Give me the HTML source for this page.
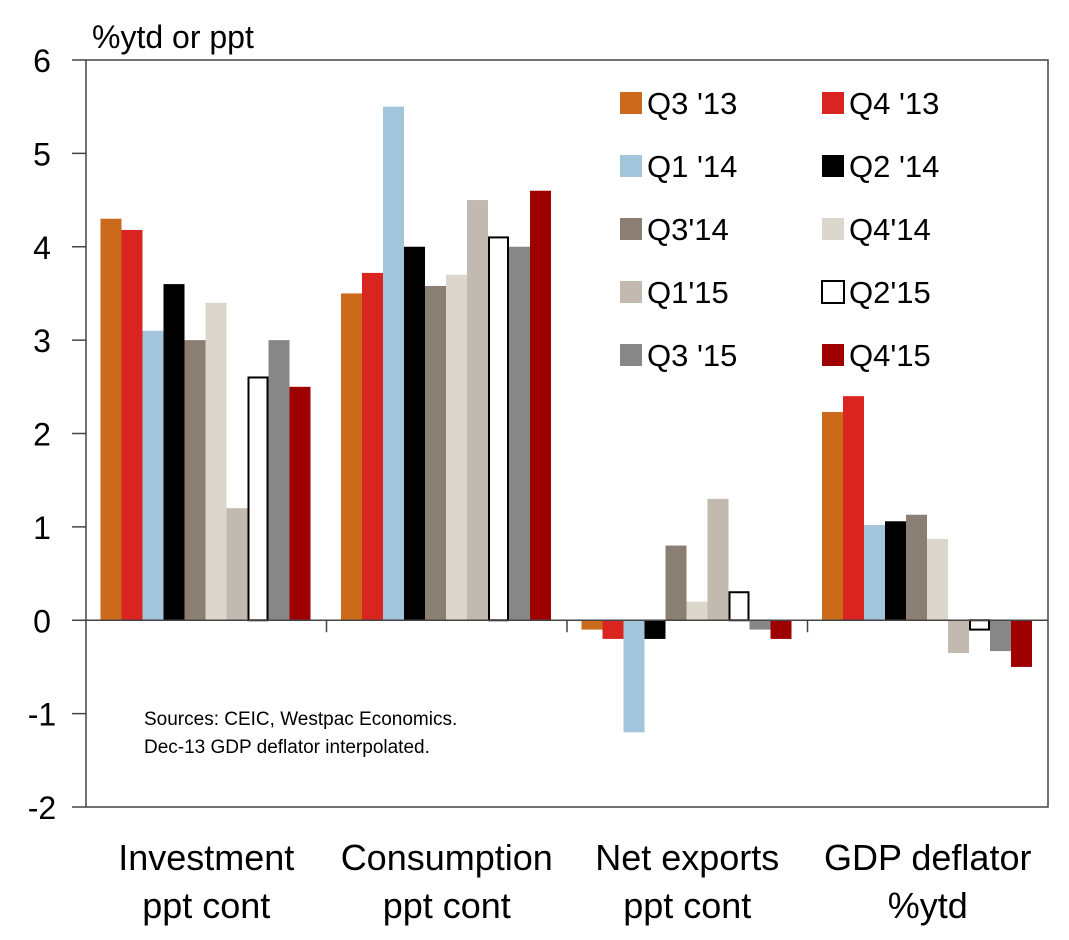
<!DOCTYPE html>
<html><head><meta charset="utf-8"><style>
body{margin:0;background:#fff;font-family:"Liberation Sans",sans-serif}
svg text{font-family:"Liberation Sans",sans-serif;fill:#000}
</style></head><body>
<svg id="c" width="1069" height="935"></svg>
<script>
const categories=["Investment|ppt cont","Consumption|ppt cont","Net exports|ppt cont","GDP deflator|%ytd"];
const seriesNames=["Q3 '13","Q4 '13","Q1 '14","Q2 '14","Q3'14","Q4'14","Q1'15","Q2'15","Q3 '15","Q4'15"];
const seriesColors=["#CC6A1C","#DA2420","#A3C5DB","#000000","#8A7F72","#DBD7CC","#C2B9B0","#FFFFFF","#878787","#9E0000"];
const investment=[4.3,4.18,3.1,3.6,3.0,3.4,1.2,2.6,3.0,2.5];
const consumption=[3.5,3.72,5.5,4.0,3.58,3.7,4.5,4.1,4.0,4.6];
const netExports=[-0.1,-0.2,-1.2,-0.2,0.8,0.2,1.3,0.3,-0.1,-0.2];
const gdpDeflator=[2.23,2.4,1.02,1.06,1.13,0.87,-0.35,-0.1,-0.33,-0.5];
const yTicks=[6,5,4,3,2,1,0,-1,-2];
const values=[investment,consumption,netExports,gdpDeflator];
const NS="http://www.w3.org/2000/svg",svg=document.getElementById('c');
const L=86,R=1048,T=60,B=807,yMin=-2,yMax=6;
const y=v=>T+(yMax-v)*(B-T)/(yMax-yMin);
const gw=(R-L)/categories.length;
function mk(t,a,p){const e=document.createElementNS(NS,t);for(const k in a)e.setAttribute(k,a[k]);(p||svg).appendChild(e);return e;}
let f=mk('rect',{x:L,y:T,width:R-L,height:B-T,fill:'none',stroke:'#444','stroke-width':1.5});

yTicks.forEach(v=>{
 let tk=mk('line',{x1:72,x2:L,y1:y(v),y2:y(v),stroke:'#444','stroke-width':1.5});
 
 let t=mk('text',{x:42,y:y(v)+12,'text-anchor':'middle','font-size':32});t.textContent=v;
 
});
categories.forEach((c,i)=>{
 const gx=L+i*gw;
 if(i>0){let tk=mk('line',{x1:gx,x2:gx,y1:y(0),y2:y(0)+12,stroke:'#444','stroke-width':1.5});
 }
 values[i].forEach((v,j)=>{
  const bx=gx+14.5+j*21;
  let r=mk('rect',{x:bx,y:Math.min(y(v),y(0)),width:21,height:Math.abs(y(v)-y(0)),fill:seriesColors[j]});
  if(j===7){r.setAttribute('stroke','#000');r.setAttribute('stroke-width',2);r.setAttribute('x',bx+1);r.setAttribute('width',19);}
  
 });
 c.split('|').forEach((s,k)=>{
  let t=mk('text',{x:gx+gw/2,y:870+k*48,'text-anchor':'middle','font-size':36});t.textContent=s;
  
 });
});
let z=mk('line',{x1:L,x2:R,y1:y(0),y2:y(0),stroke:'#444','stroke-width':1.5});

let yt=mk('text',{x:92,y:48,'font-size':32});yt.textContent='%ytd or ppt';

seriesNames.forEach((n,j)=>{
 const col=j%2,row=Math.floor(j/2),lx=620+col*202,ly=103+row*63;
 let s=mk('rect',{x:lx,y:ly-11,width:22,height:22,fill:seriesColors[j]});
 if(j===7){s.setAttribute('stroke','#000');s.setAttribute('stroke-width',2);}
 
 let t=mk('text',{x:lx+27,y:ly+11,'font-size':31});t.textContent=n;
 
});
["Sources: CEIC, Westpac Economics.","Dec-13 GDP deflator interpolated."].forEach((s,k)=>{
 let t=mk('text',{x:144,y:725+k*28,'font-size':19});t.textContent=s;
 
});
</script>
</body></html>
